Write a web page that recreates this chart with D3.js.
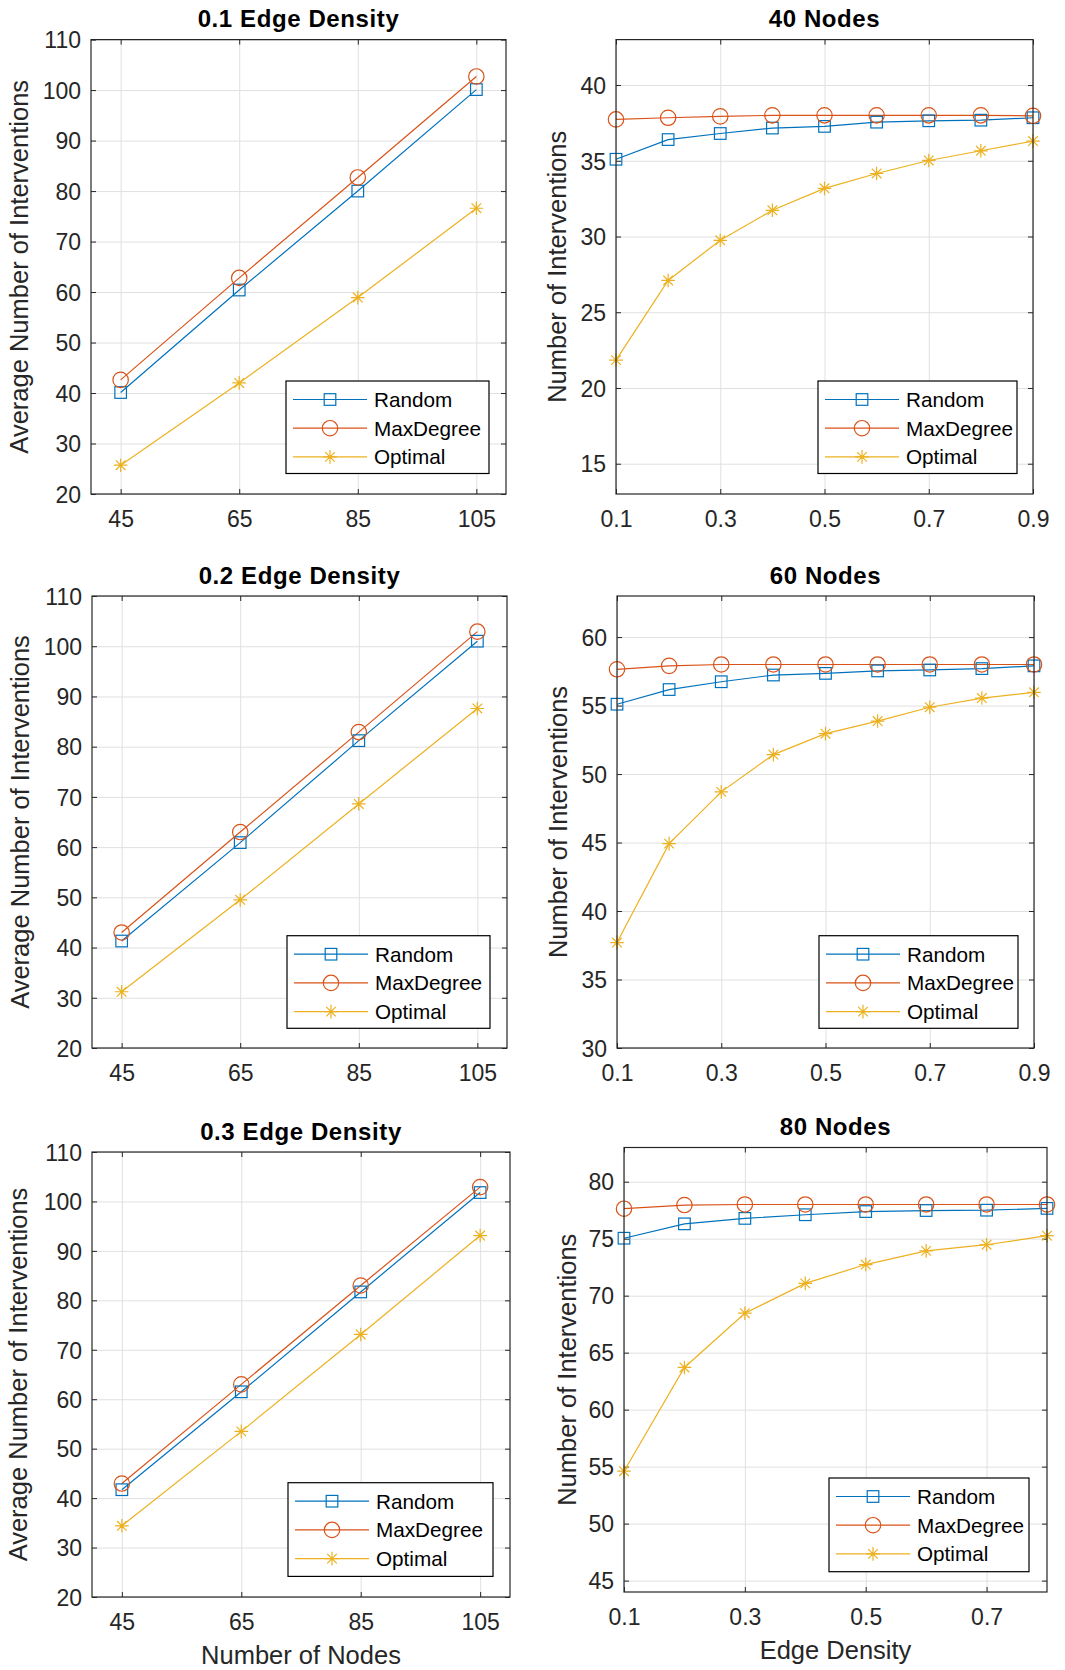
<!DOCTYPE html>
<html>
<head>
<meta charset="utf-8">
<script src="https://cdn.jsdelivr.net/npm/d3@7"></script>
<style>
  body { margin: 0; background: #fff; }
  svg { font-family: "Liberation Sans", Arial, sans-serif; }
</style>
</head>
<body>
<div id="container"></div>
<script>
let w = 1065;
let h = 1670;

// x values
let nodeCounts = [45, 65, 85, 105];
let density9 = [0.1, 0.2, 0.3, 0.4, 0.5, 0.6, 0.7, 0.8, 0.9];
let density8 = [0.1, 0.2, 0.3, 0.4, 0.5, 0.6, 0.7, 0.8];

// tick labels
let nodeTicks = [45, 65, 85, 105];
let densityTicks = [0.1, 0.3, 0.5, 0.7, 0.9];
let densityTicks80 = [0.1, 0.3, 0.5, 0.7];
let avgTicks = [20, 30, 40, 50, 60, 70, 80, 90, 100, 110];
let n40Ticks = [15, 20, 25, 30, 35, 40];
let n60Ticks = [30, 35, 40, 45, 50, 55, 60];
let n80Ticks = [45, 50, 55, 60, 65, 70, 75, 80];

let seriesNames = ["Random", "MaxDegree", "Optimal"];

// left column: by number of nodes
let ed01Random = [40.1, 60.4, 80.0, 100.1];
let ed01MaxDeg = [42.6, 62.8, 82.7, 102.7];
let ed01Optimal = [25.7, 42.0, 58.9, 76.6];

let ed02Random = [41.3, 60.9, 81.2, 101.0];
let ed02MaxDeg = [43.0, 63.0, 82.9, 102.9];
let ed02Optimal = [31.2, 49.5, 68.6, 87.6];

let ed03Random = [41.7, 61.5, 81.7, 101.8];
let ed03MaxDeg = [42.95, 63.0, 83.0, 102.9];
let ed03Optimal = [34.4, 53.5, 73.1, 93.1];

// right column: by edge density
let n40Random = [35.1, 36.4, 36.8, 37.16, 37.27, 37.55, 37.64, 37.68, 37.84];
let n40MaxDeg = [37.73, 37.84, 37.93, 38.0, 38.0, 38.0, 38.0, 38.0, 37.97];
let n40Optimal = [21.84, 27.1, 29.75, 31.73, 33.18, 34.16, 35.02, 35.66, 36.3];

let n60Random = [55.1, 56.17, 56.74, 57.23, 57.35, 57.53, 57.6, 57.7, 57.9];
let n60MaxDeg = [57.65, 57.9, 58.0, 58.0, 58.0, 58.0, 58.0, 58.0, 58.0];
let n60Optimal = [37.7, 44.92, 48.7, 51.42, 52.95, 53.87, 54.88, 55.55, 55.97];

let n80Random = [75.04, 76.3, 76.78, 77.1, 77.38, 77.47, 77.5, 77.66];
let n80MaxDeg = [77.63, 77.95, 78.0, 78.0, 78.0, 78.0, 78.0, 78.0];
let n80Optimal = [54.6, 63.7, 68.46, 71.08, 72.73, 73.93, 74.47, 75.26];

let colors = ["#0072BD", "#D95319", "#EDB120"];
let axisColor = "#262626";
let gridColor = "#e0e0e0";

// panels: data + axis setup
let panels = [
  { title: "0.1 Edge Density", xs: nodeCounts, series: [ed01Random, ed01MaxDeg, ed01Optimal],
    xDomain: [40, 110], yDomain: [20, 110], xTicks: nodeTicks, yTicks: avgTicks,
    yLabel: "Average Number of Interventions", xLabel: null, fmt: d3.format("d") },
  { title: "40 Nodes", xs: density9, series: [n40Random, n40MaxDeg, n40Optimal],
    xDomain: [0.1, 0.9], yDomain: [13, 43], xTicks: densityTicks, yTicks: n40Ticks,
    yLabel: "Number of Interventions", xLabel: null, fmt: d3.format(".1f") },
  { title: "0.2 Edge Density", xs: nodeCounts, series: [ed02Random, ed02MaxDeg, ed02Optimal],
    xDomain: [40, 110], yDomain: [20, 110], xTicks: nodeTicks, yTicks: avgTicks,
    yLabel: "Average Number of Interventions", xLabel: null, fmt: d3.format("d") },
  { title: "60 Nodes", xs: density9, series: [n60Random, n60MaxDeg, n60Optimal],
    xDomain: [0.1, 0.9], yDomain: [30, 63], xTicks: densityTicks, yTicks: n60Ticks,
    yLabel: "Number of Interventions", xLabel: null, fmt: d3.format(".1f") },
  { title: "0.3 Edge Density", xs: nodeCounts, series: [ed03Random, ed03MaxDeg, ed03Optimal],
    xDomain: [40, 110], yDomain: [20, 110], xTicks: nodeTicks, yTicks: avgTicks,
    yLabel: "Average Number of Interventions", xLabel: "Number of Nodes", fmt: d3.format("d") },
  { title: "80 Nodes", xs: density8, series: [n80Random, n80MaxDeg, n80Optimal],
    xDomain: [0.1, 0.8], yDomain: [44, 83], xTicks: densityTicks80, yTicks: n80Ticks,
    yLabel: "Number of Interventions", xLabel: "Edge Density", fmt: d3.format(".1f") }
];

// where each axes box and legend box sits on the page
let boxes = [
  { x0: 91, y0: 39.6, x1: 506, y1: 494, lg: [286, 381, 489, 473.5], ylab: 63 },
  { x0: 616, y0: 39.6, x1: 1033, y1: 494, lg: [818, 381, 1017, 473.5], ylab: 50 },
  { x0: 92, y0: 596, x1: 507, y1: 1048, lg: [287, 935.7, 490, 1028.3], ylab: 63 },
  { x0: 617, y0: 596, x1: 1034, y1: 1048, lg: [819, 935.7, 1018, 1028.3], ylab: 50 },
  { x0: 92, y0: 1152, x1: 510, y1: 1597, lg: [288, 1482.7, 493, 1576.4], ylab: 65 },
  { x0: 624, y0: 1147.5, x1: 1047, y1: 1592, lg: [829, 1478, 1029, 1571.7], ylab: 48 }
];

let viz = d3.select("#container")
  .append("svg")
    .attr("width", w)
    .attr("height", h)
    .style("background-color", "white")
;

// marker shapes, centered at 0,0
function drawMarker(sel, k, color) {
  if (k == 0) {
    sel.append("rect")
      .attr("x", -5.8).attr("y", -5.8).attr("width", 11.6).attr("height", 11.6)
      .attr("fill", "none").attr("stroke", color).attr("stroke-width", 1.2);
  } else if (k == 1) {
    sel.append("circle")
      .attr("r", 7.7)
      .attr("fill", "none").attr("stroke", color).attr("stroke-width", 1.2);
  } else {
    let s = 6.8, d = 4.8;
    sel.append("path")
      .attr("d", "M" + (-s) + ",0L" + s + ",0M0," + (-s) + "L0," + s +
                 "M" + (-d) + "," + (-d) + "L" + d + "," + d +
                 "M" + (-d) + "," + d + "L" + d + "," + (-d))
      .attr("fill", "none").attr("stroke", color).attr("stroke-width", 1.2);
  }
}

panels.forEach(function (p, i) {
  let b = boxes[i];
  let pw = b.x1 - b.x0;
  let ph = b.y1 - b.y0;

  let xScale = d3.scaleLinear().domain(p.xDomain).range([0, pw]);
  let yScale = d3.scaleLinear().domain(p.yDomain).range([ph, 0]);

  let g = viz.append("g").attr("transform", "translate(" + b.x0 + "," + b.y0 + ")");

  // grid
  g.append("g")
    .attr("transform", "translate(0," + ph + ")")
    .call(d3.axisBottom(xScale).tickValues(p.xTicks).tickSize(-ph).tickFormat(""))
    .call(s => s.select(".domain").remove())
    .selectAll("line").attr("stroke", gridColor);
  g.append("g")
    .call(d3.axisLeft(yScale).tickValues(p.yTicks).tickSize(-pw).tickFormat(""))
    .call(s => s.select(".domain").remove())
    .selectAll("line").attr("stroke", gridColor);

  // ticks with labels (inside ticks, like matlab)
  let xAxis = g.append("g")
    .attr("transform", "translate(0," + ph + ")")
    .call(d3.axisBottom(xScale).tickValues(p.xTicks).tickSize(-5).tickPadding(33).tickFormat(p.fmt));
  let yAxis = g.append("g")
    .call(d3.axisLeft(yScale).tickValues(p.yTicks).tickSize(-5).tickPadding(10));
  let topAxis = g.append("g")
    .call(d3.axisTop(xScale).tickValues(p.xTicks).tickSize(-5).tickFormat(""));
  let rightAxis = g.append("g")
    .attr("transform", "translate(" + pw + ",0)")
    .call(d3.axisRight(yScale).tickValues(p.yTicks).tickSize(-5).tickFormat(""));

  [xAxis, yAxis, topAxis, rightAxis].forEach(function (a) {
    a.select(".domain").remove();
    a.selectAll("line").attr("stroke", axisColor);
    a.selectAll("text")
      .attr("fill", axisColor)
      .style("font-size", "23px")
      .style("font-family", "'Liberation Sans', Arial, sans-serif");
  });
  xAxis.selectAll("text").attr("dy", 0);
  yAxis.selectAll("text").attr("dy", "0.36em");

  // series lines + markers
  let line = d3.line()
    .x(function (d, j) { return xScale(p.xs[j]); })
    .y(function (d) { return yScale(d); });

  p.series.forEach(function (vals, k) {
    g.append("path")
      .datum(vals)
      .attr("d", line)
      .attr("fill", "none")
      .attr("stroke", colors[k])
      .attr("stroke-width", 1.2);
  });
  p.series.forEach(function (vals, k) {
    g.selectAll(".m" + k).data(vals).enter()
      .append("g")
        .attr("class", "m" + k)
        .attr("transform", function (d, j) {
          return "translate(" + xScale(p.xs[j]) + "," + yScale(d) + ")";
        })
        .each(function () { drawMarker(d3.select(this), k, colors[k]); });
  });

  // box
  g.append("rect")
    .attr("width", pw).attr("height", ph)
    .attr("fill", "none").attr("stroke", axisColor).attr("stroke-width", 1.2);

  // title
  g.append("text")
    .attr("x", pw / 2).attr("y", -12.5)
    .attr("text-anchor", "middle")
    .style("font-size", "24px").style("font-weight", "bold")
    .style("letter-spacing", "0.6px")
    .attr("fill", "black")
    .text(p.title);

  // y label
  g.append("text")
    .attr("transform", "translate(" + (-b.ylab) + "," + (ph / 2) + ") rotate(-90)")
    .attr("text-anchor", "middle")
    .style("font-size", "25.5px")
    .attr("fill", axisColor)
    .text(p.yLabel);

  // x label
  if (p.xLabel) {
    g.append("text")
      .attr("x", pw / 2).attr("y", ph + 67)
      .attr("text-anchor", "middle")
      .style("font-size", "25.5px")
      .attr("fill", axisColor)
      .text(p.xLabel);
  }

  // legend
  let L = b.lg;
  let lg = viz.append("g").attr("transform", "translate(" + L[0] + "," + L[1] + ")");
  lg.append("rect")
    .attr("width", L[2] - L[0]).attr("height", L[3] - L[1])
    .attr("fill", "white").attr("stroke", "black").attr("stroke-width", 1.2);
  seriesNames.forEach(function (name, k) {
    let yy = 18.5 + k * 28.7;
    lg.append("line")
      .attr("x1", 7).attr("x2", 81).attr("y1", yy).attr("y2", yy)
      .attr("stroke", colors[k]).attr("stroke-width", 1.2);
    let mk = lg.append("g").attr("transform", "translate(44," + yy + ")");
    drawMarker(mk, k, colors[k]);
    lg.append("text")
      .attr("x", 88).attr("y", yy).attr("dy", "0.36em")
      .style("font-size", "20.7px")
      .attr("fill", "black")
      .text(name);
  });
});
</script>
</body>
</html>
